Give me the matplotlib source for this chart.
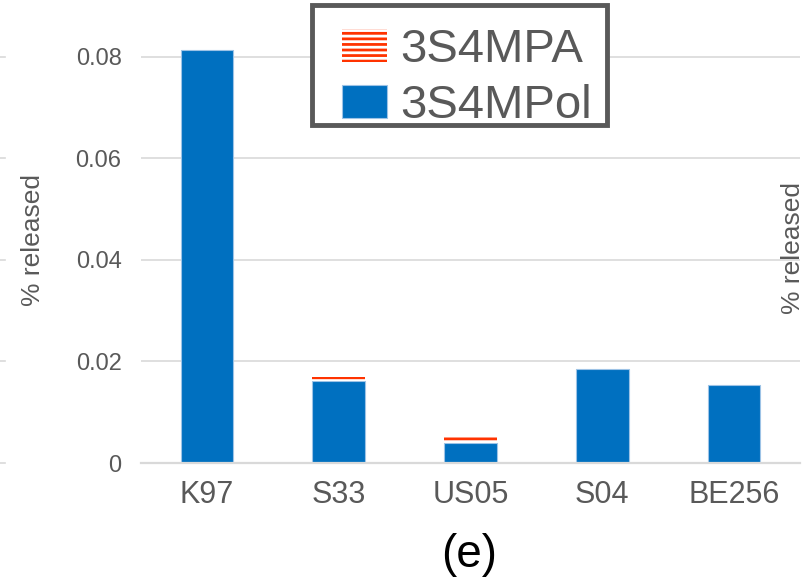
import numpy as np
import matplotlib.pyplot as plt
import matplotlib.transforms as mtransforms
from matplotlib.patches import Rectangle

plt.rcParams['font.family'] = ['Liberation Sans', 'DejaVu Sans']
plt.rcParams['hatch.linewidth'] = 2.0

# data
categories = ['K97', 'S33', 'US05', 'S04', 'BE256']
mpol = [0.0814, 0.0162, 0.0040, 0.0185, 0.0154]   # 3S4MPol (blue, bottom)
mpa = [0.0, 0.0008, 0.0013, 0.0, 0.0]            # 3S4MPA (red hatched, top)
yticks = [0, 0.02, 0.04, 0.06, 0.08]
ytick_labels = ['0', '0.02', '0.04', '0.06', '0.08']

blue = '#0070C0'
red = '#FF3300'
grid_col = '#D9D9D9'
txt = '#595959'

fig = plt.figure(figsize=(8.08, 5.81), dpi=100)
ax = fig.add_axes([141 / 808, 1 - 463 / 581, 659 / 808, 457 / 581])

x = np.arange(len(categories))
ax.bar(x, mpol, width=0.4, color=blue, edgecolor='#9DC3E6', linewidth=0.8,
       label='3S4MPol', zorder=3)
ax.bar(x, mpa, width=0.4, bottom=mpol, color=red, edgecolor='white',
       linewidth=0, hatch='---', label='3S4MPA', zorder=3)

ax.set_xlim(-0.5, len(categories) - 0.5)
ax.set_ylim(0, 0.09)
ax.set_yticks(yticks)
ax.set_yticklabels(ytick_labels)
ax.set_xticks(x)
ax.set_xticklabels(categories)
ax.tick_params(axis='y', length=0, pad=14, labelsize=17, labelcolor=txt)
ax.tick_params(axis='x', length=0, pad=12, labelsize=22, labelcolor=txt)
ax.yaxis.grid(True, color=grid_col, linewidth=1.2, zorder=0)
ax.set_axisbelow(True)
for s in ['top', 'right', 'left']:
    ax.spines[s].set_visible(False)
ax.spines['bottom'].set_color(grid_col)
ax.spines['bottom'].set_linewidth(1.6)
ax.spines['bottom'].set_zorder(4)

ax.set_ylabel('% released', fontsize=19, color=txt)
ax.yaxis.set_label_coords(-0.145, 0.488)

# grid stubs from the neighbouring panel at the left edge
trans = mtransforms.blended_transform_factory(fig.transFigure, ax.transData)
for t in yticks:
    ax.plot([0, 5 / 808], [t, t], color=grid_col, linewidth=1.2,
            transform=trans, clip_on=False)

# right-hand axis title of the next panel
fig.text(793 / 808, 1 - 248 / 581, '% released', rotation=90, fontsize=19,
         color=txt, ha='center', va='center')

# legend box (drawn separately so the text can sit tight against it)
fig.patches.append(Rectangle((312 / 808, 1 - 125 / 581), 295 / 808, 120 / 581,
                             transform=fig.transFigure, facecolor='white',
                             edgecolor=txt, linewidth=3.5, zorder=5))
handles, labels = ax.get_legend_handles_labels()
leg = fig.legend(handles[::-1], labels[::-1], loc='upper left',
                 bbox_to_anchor=(342 / 808, 1 - 28 / 581), fontsize=34,
                 handlelength=0.95, handleheight=0.7, handletextpad=0.28,
                 labelspacing=0.25, borderpad=0, borderaxespad=0,
                 frameon=False)
leg.set_zorder(6)
for t in leg.get_texts():
    t.set_color(txt)

fig.text(469 / 808, 1 - 555 / 581, '(e)', fontsize=33, color='black',
         ha='center', va='center')

fig.savefig('out.png', dpi=100)
